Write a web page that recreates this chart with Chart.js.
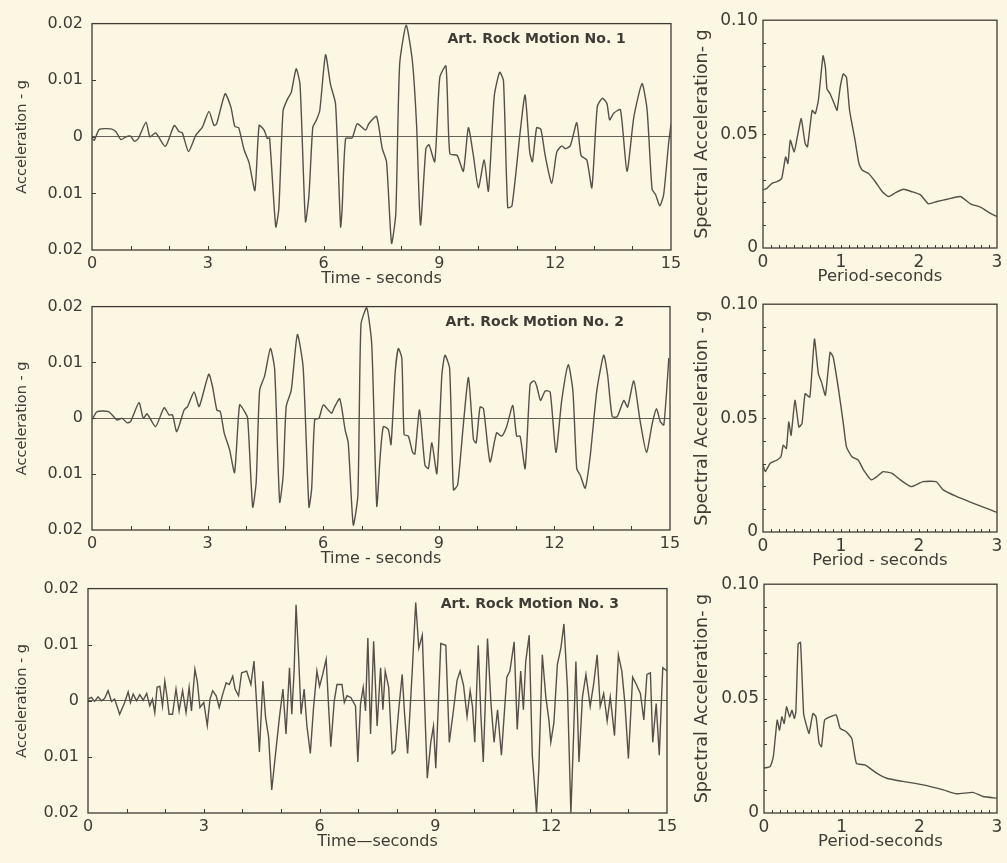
<!DOCTYPE html>
<html>
<head>
<meta charset="utf-8">
<title>Artificial rock motions</title>
<script src="https://cdn.jsdelivr.net/npm/chart.js@4.4.1/dist/chart.umd.min.js"></script>
<style>
  html, body { margin: 0; padding: 0; background: #fbf7e2; }
  #sheet { position: relative; width: 1007px; height: 863px; overflow: hidden; background: #fbf7e2; }
  #sheet canvas { position: absolute; }
</style>
</head>
<body>
<div id="sheet"></div>
<script>
// acceleration time histories (s, g)
const motion1Time = [
  0, 0.06, 0.19, 0.49, 0.62, 0.75, 0.88, 1.0, 1.1, 1.2,
  1.4, 1.5, 1.65, 1.9, 2.13, 2.26, 2.34, 2.5, 2.69, 2.86,
  3.03, 3.16, 3.23, 3.45, 3.6, 3.7, 3.8, 3.94, 4.07, 4.22,
  4.33, 4.46, 4.54, 4.6, 4.76, 4.84, 4.95, 5.06, 5.16, 5.29,
  5.39, 5.53, 5.62, 5.72, 5.81, 5.9, 6.05, 6.18, 6.31, 6.44,
  6.48, 6.57, 6.74, 6.87, 7.09, 7.17, 7.37, 7.52, 7.63, 7.76,
  7.87, 7.97, 8.14, 8.3, 8.41, 8.51, 8.65, 8.73, 8.88, 9.01,
  9.17, 9.27, 9.46, 9.62, 9.75, 9.88, 10.01, 10.16, 10.27, 10.42,
  10.56, 10.66, 10.77, 10.88, 11.1, 11.22, 11.34, 11.41, 11.52, 11.63,
  11.74, 11.91, 12.04, 12.17, 12.26, 12.39, 12.56, 12.67, 12.82, 12.95,
  13.09, 13.22, 13.34, 13.41, 13.52, 13.69, 13.86, 14.04, 14.25, 14.38,
  14.51, 14.6, 14.71, 14.81, 14.94, 15.0
];
const motion1Accel = [
  -0.0003, -0.0006, 0.0013, 0.0014, 0.0009, -0.0005, 0, 0.0001, -0.0008, -0.0003,
  0.0026, 0, 0.0007, -0.0017, 0.002, 0.0009, 0.0007, -0.0026, 0.0003, 0.0017,
  0.0045, 0.002, 0.0023, 0.0076, 0.0052, 0.0018, 0.0016, -0.0023, -0.0046, -0.0095,
  0.002, 0.0012, -0.0003, -0.0002, -0.0159, -0.0127, 0.0046, 0.0066, 0.0078, 0.012,
  0.0092, -0.015, -0.0104, 0.0017, 0.0029, 0.0046, 0.0145, 0.0092, 0.0058, -0.0159,
  -0.0127, -0.0003, -0.0002, 0.0023, 0.0012, 0.0023, 0.0036, -0.0021, -0.0044, -0.0188,
  -0.0136, 0.0128, 0.0197, 0.0134, 0.0019, -0.0156, -0.0021, -0.0014, -0.0044, 0.0105,
  0.0125, -0.003, -0.0033, -0.0061, 0.0016, -0.0033, -0.009, -0.0041, -0.0096, 0.0071,
  0.0114, 0.0099, -0.0125, -0.0122, 0.0013, 0.0074, -0.0027, -0.0044, 0.0016, 0.0013,
  -0.0033, -0.0082, -0.0027, -0.0016, -0.0021, -0.0016, 0.0025, -0.0033, -0.0041, -0.009,
  0.0053, 0.0068, 0.0059, 0.003, 0.0042, 0.0048, -0.0061, 0.0036, 0.0094, 0.0048,
  -0.0093, -0.0102, -0.0122, -0.0102, -0.001, 0.0022
];

const motion2Time = [
  0, 0.13, 0.43, 0.65, 0.78, 0.91, 1.0, 1.22, 1.33, 1.43,
  1.65, 1.87, 2.0, 2.09, 2.2, 2.39, 2.48, 2.65, 2.78, 3.03,
  3.13, 3.24, 3.33, 3.43, 3.57, 3.7, 3.83, 3.96, 4.04, 4.17,
  4.26, 4.35, 4.48, 4.63, 4.74, 4.87, 4.96, 5.04, 5.17, 5.33,
  5.48, 5.63, 5.7, 5.78, 5.89, 6.0, 6.13, 6.22, 6.3, 6.43,
  6.57, 6.65, 6.78, 6.9, 6.98, 7.13, 7.26, 7.39, 7.48, 7.56,
  7.69, 7.76, 7.87, 7.95, 8.04, 8.1, 8.21, 8.32, 8.38, 8.5,
  8.64, 8.73, 8.82, 8.95, 9.08, 9.16, 9.28, 9.38, 9.49, 9.64,
  9.77, 9.9, 9.97, 10.07, 10.16, 10.33, 10.5, 10.63, 10.76, 10.92,
  11.02, 11.11, 11.24, 11.37, 11.47, 11.54, 11.64, 11.76, 11.89, 12.04,
  12.19, 12.36, 12.48, 12.58, 12.67, 12.8, 12.93, 13.1, 13.28, 13.38,
  13.5, 13.63, 13.8, 13.9, 14.06, 14.22, 14.39, 14.54, 14.65, 14.75,
  14.84, 14.97
];
const motion2Accel = [
  -0.0003, 0.0012, 0.0012, -0.0003, 0, -0.0008, -0.0006, 0.0028, 0, 0.0008,
  -0.0015, 0.0019, 0.0006, 0.0006, -0.0024, 0.0015, 0.0021, 0.0047, 0.0021, 0.0079,
  0.0056, 0.0015, 0.0012, -0.0026, -0.0056, -0.0097, 0.0024, 0.0012, 0, -0.0159,
  -0.0115, 0.005, 0.0076, 0.0125, 0.0088, -0.015, -0.0103, 0.0021, 0.005, 0.015,
  0.0091, -0.0159, -0.0126, -0.0002, 0, 0.0024, 0.0015, 0.0009, 0.0021, 0.0035,
  -0.0021, -0.0044, -0.0191, -0.0138, 0.0168, 0.0198, 0.0132, -0.0157, -0.0067, -0.0015,
  -0.002, -0.0047, 0.0084, 0.0125, 0.0108, -0.0029, -0.0032, -0.0061, -0.0064, 0.0015,
  -0.0084, -0.009, -0.0044, -0.0099, 0.0078, 0.0113, 0.009, -0.0128, -0.0119, -0.0009,
  0.0073, -0.0038, -0.0044, 0.002, 0.0017, -0.0078, -0.0026, -0.0032, -0.0015, 0.0023,
  -0.0032, -0.0032, -0.009, 0.0061, 0.0067, 0.0058, 0.0032, 0.0049, 0.0047, -0.0061,
  0.0032, 0.0096, 0.0049, -0.009, -0.0102, -0.0125, -0.0067, 0.0049, 0.0113, 0.0078,
  0.0003, 0.0003, 0.0032, 0.002, 0.0067, -0.0003, -0.0061, -0.0009, 0.0017, -0.0006,
  -0.0012, 0.0108
];

const motion3Time = [
  0, 0.09, 0.17, 0.26, 0.35, 0.43, 0.52, 0.61, 0.69, 0.82,
  0.95, 1.04, 1.1, 1.17, 1.26, 1.34, 1.43, 1.52, 1.6, 1.67,
  1.73, 1.79, 1.86, 1.93, 1.99, 2.05, 2.1, 2.19, 2.28, 2.36,
  2.45, 2.54, 2.62, 2.68, 2.77, 2.83, 2.9, 3.0, 3.09, 3.16,
  3.23, 3.32, 3.4, 3.49, 3.58, 3.66, 3.75, 3.81, 3.9, 3.98,
  4.11, 4.22, 4.3, 4.37, 4.44, 4.53, 4.6, 4.68, 4.76, 4.85,
  4.96, 5.05, 5.13, 5.22, 5.28, 5.34, 5.39, 5.45, 5.52, 5.6,
  5.67, 5.76, 5.84, 5.93, 6.0, 6.08, 6.17, 6.23, 6.29, 6.38,
  6.45, 6.58, 6.64, 6.71, 6.81, 6.93, 6.99, 7.06, 7.13, 7.19,
  7.25, 7.32, 7.4, 7.49, 7.58, 7.64, 7.7, 7.79, 7.88, 7.96,
  8.05, 8.14, 8.2, 8.28, 8.4, 8.49, 8.57, 8.66, 8.75, 8.79,
  8.88, 8.95, 9.01, 9.14, 9.27, 9.36, 9.47, 9.56, 9.64, 9.73,
  9.82, 9.9, 9.96, 10.02, 10.11, 10.18, 10.24, 10.35, 10.44, 10.52,
  10.61, 10.71, 10.85, 10.93, 11.04, 11.12, 11.21, 11.28, 11.34, 11.43,
  11.51, 11.62, 11.68, 11.77, 11.86, 11.94, 11.99, 12.07, 12.16, 12.25,
  12.33, 12.42, 12.51, 12.58, 12.64, 12.72, 12.81, 12.9, 13.01, 13.1,
  13.19, 13.27, 13.36, 13.45, 13.53, 13.64, 13.74, 13.83, 13.91, 14.0,
  14.11, 14.2, 14.31, 14.4, 14.48, 14.57, 14.63, 14.72, 14.8, 14.89,
  15.0
];
const motion3Accel = [
  0.0003, 0.0006, -0.0001, 0.0007, 0, 0.0004, 0.0018, -0.0001, 0.0003, -0.0024,
  -0.0003, 0.0016, -0.0003, 0.0012, 0, 0.0011, 0.0001, 0.0013, -0.0009, 0.0003,
  -0.0021, 0.0024, 0.0026, -0.0009, 0.0035, 0.0006, -0.0024, -0.0024, 0.0021, -0.0018,
  0.0018, -0.0021, 0.0024, -0.0018, 0.0056, 0.0035, -0.0012, -0.0003, -0.0044, 0.0003,
  0.0018, 0.0009, -0.0012, 0.0012, 0.0032, 0.0029, 0.0044, 0.0021, 0.0009, 0.005,
  0.0053, 0.0029, 0.0071, -0.0006, -0.0091, 0.0035, -0.0029, -0.0065, -0.0159, -0.01,
  -0.0029, 0.0021, -0.0059, 0.0059, -0.0024, 0.0053, 0.0171, 0.0088, -0.0024, 0.0021,
  -0.0044, -0.0094, -0.0015, 0.0053, 0.0026, 0.0047, 0.0074, -0.0006, -0.0082, 0,
  0.0029, 0.0029, -0.0003, 0.0009, 0.0006, -0.0009, -0.0109, -0.0006, 0.0024, -0.0018,
  0.0112, -0.0059, 0.0106, -0.0045, 0.0059, -0.0016, 0.0053, 0.0024, -0.0094, -0.0088,
  -0.0016, 0.0047, -0.0022, -0.0094, 0.0053, 0.0175, 0.0094, 0.0117, -0.0062, -0.0138,
  -0.0074, -0.0045, -0.012, 0.0102, 0.0099, -0.0074, -0.0016, 0.0036, 0.0053, 0.0027,
  -0.0028, 0.0018, -0.001, -0.0074, 0.0099, -0.0028, -0.0109, 0.0111, -0.0005, -0.0074,
  -0.0016, -0.0097, 0.0042, 0.0053, 0.0105, -0.0051, 0.0053, -0.0016, 0.007, 0.0117,
  -0.0097, -0.02, -0.012, 0.0082, 0.0007, -0.0034, -0.0074, -0.0039, 0.0065, 0.0094,
  0.0137, 0.0024, -0.02, -0.0062, 0.007, -0.0109, 0.0007, 0.0047, -0.001, 0.003,
  0.0082, -0.001, 0.0013, -0.0036, 0.0007, -0.0062, 0.0082, 0.0053, -0.0005, -0.0103,
  0.0042, 0.003, 0.0013, -0.0034, 0.0047, 0.005, -0.0074, -0.0005, -0.0097, 0.0059,
  0.0053
];

// response spectra (period s, spectral acceleration g)
const spectrum1Period = [
  0, 0.05, 0.115, 0.18, 0.24, 0.29, 0.32, 0.35, 0.4, 0.44,
  0.49, 0.54, 0.57, 0.63, 0.67, 0.71, 0.77, 0.8, 0.82, 0.86,
  0.93, 0.95, 0.99, 1.03, 1.07, 1.11, 1.18, 1.23, 1.27, 1.35,
  1.44, 1.53, 1.61, 1.7, 1.8, 1.91, 2.02, 2.12, 2.23, 2.36,
  2.53, 2.66, 2.79, 2.91, 3.0
];
const spectrum1Accel = [
  0.0255, 0.0262, 0.0284, 0.0291, 0.0306, 0.04, 0.0371, 0.0473, 0.0422, 0.0488,
  0.0568, 0.0459, 0.0444, 0.0604, 0.059, 0.0648, 0.0844, 0.0793, 0.0699, 0.0677,
  0.0619, 0.0604, 0.0706, 0.0764, 0.075, 0.0604, 0.0473, 0.0371, 0.0342, 0.0328,
  0.0291, 0.0247, 0.0226, 0.0243, 0.0258, 0.0247, 0.0233, 0.0194, 0.0204, 0.0214,
  0.0226, 0.0194, 0.0179, 0.0153, 0.0138
];

const spectrum2Period = [
  0, 0.03, 0.09, 0.18, 0.23, 0.26, 0.3, 0.33, 0.36, 0.41,
  0.46, 0.5, 0.54, 0.6, 0.66, 0.71, 0.75, 0.8, 0.86, 0.9,
  0.97, 1.03, 1.07, 1.14, 1.22, 1.29, 1.39, 1.46, 1.54, 1.65,
  1.76, 1.9, 2.05, 2.22, 2.31, 2.48, 2.69, 2.91, 3.0
];
const spectrum2Accel = [
  0.0294, 0.0265, 0.0301, 0.0316, 0.033, 0.0381, 0.0367, 0.0483, 0.0425, 0.0578,
  0.0461, 0.0476, 0.0607, 0.0592, 0.0847, 0.0694, 0.0658, 0.06, 0.0789, 0.0767,
  0.0622, 0.0476, 0.0374, 0.033, 0.0316, 0.0272, 0.0229, 0.0243, 0.0265, 0.0258,
  0.0229, 0.0199, 0.0221, 0.0221, 0.0185, 0.0156, 0.0127, 0.0098, 0.0086
];

const spectrum3Period = [
  0, 0.08, 0.12, 0.17, 0.2, 0.23, 0.26, 0.29, 0.33, 0.36,
  0.39, 0.41, 0.44, 0.47, 0.51, 0.54, 0.58, 0.63, 0.67, 0.71,
  0.74, 0.78, 0.85, 0.93, 0.98, 1.06, 1.13, 1.19, 1.3, 1.45,
  1.58, 1.79, 2.05, 2.31, 2.48, 2.69, 2.82, 3.0
];
const spectrum3Accel = [
  0.0196, 0.0203, 0.0246, 0.0406, 0.0362, 0.042, 0.0391, 0.0464, 0.042, 0.0449,
  0.0413, 0.0442, 0.0739, 0.0746, 0.0435, 0.0391, 0.0348, 0.0435, 0.042, 0.0304,
  0.029, 0.0406, 0.042, 0.0428, 0.037, 0.0355, 0.0326, 0.0217, 0.021, 0.0174,
  0.0152, 0.0138, 0.0123, 0.0101, 0.0084, 0.009, 0.0072, 0.0065
];

const captions = ['Art. Rock Motion No. 1', 'Art. Rock Motion No. 2', 'Art. Rock Motion No. 3'];
const timeTitles = ['Time - seconds', 'Time - seconds', 'Time\u2014seconds'];
const periodTitles = ['Period-seconds', 'Period - seconds', 'Period-seconds'];
const spectralTitles = ['Spectral Acceleration- g', 'Spectral Acceleration - g', 'Spectral Acceleration- g'];

const INK = '#403b36';
const TRACE = '#55504a';
const FACE = 'DejaVu Sans';

// box around the plot, short inward ticks, and the caption inside
const framePlugin = {
  id: 'frame',
  beforeDatasetsDraw(chart, args, opts) {
    const { ctx, chartArea: a, scales: { x, y } } = chart;
    ctx.save();
    ctx.strokeStyle = INK;
    ctx.lineWidth = 1.3;
    ctx.strokeRect(a.left, a.top, a.width, a.height);
    ctx.lineWidth = 1;
    ctx.beginPath();
    const nx = Math.round((x.max - x.min) / opts.xMinor);
    for (let i = 1; i < nx; i++) {
      const px = Math.round(x.getPixelForValue(x.min + i * opts.xMinor)) + 0.5;
      ctx.moveTo(px, a.bottom);
      ctx.lineTo(px, a.bottom - opts.tickLen);
    }
    const ny = Math.round((y.max - y.min) / opts.yMinor);
    for (let i = 1; i < ny; i++) {
      const py = Math.round(y.getPixelForValue(y.min + i * opts.yMinor)) + 0.5;
      ctx.moveTo(a.left, py);
      ctx.lineTo(a.left + opts.tickLen, py);
    }
    ctx.stroke();
    if (opts.caption) {
      ctx.fillStyle = INK;
      ctx.font = 'bold 14px "' + FACE + '"';
      ctx.textAlign = 'center';
      ctx.textBaseline = 'middle';
      ctx.fillText(opts.caption, a.left + a.width * opts.captionX, a.top + 16);
    }
    ctx.restore();
  }
};

const PAD_TOP = 14;
const AXIS_H = 50;

function addPanel(box, spec) {
  const width = box.canvasRight - box.canvasLeft;
  const height = box.bottom - box.top + PAD_TOP + AXIS_H;
  const canvas = document.createElement('canvas');
  canvas.width = width;
  canvas.height = height;
  canvas.style.left = box.canvasLeft + 'px';
  canvas.style.top = (box.top - PAD_TOP) + 'px';
  document.getElementById('sheet').appendChild(canvas);

  const points = spec.xs.map((v, i) => ({ x: v, y: spec.ys[i] }));

  return new Chart(canvas, {
    type: 'line',
    data: {
      datasets: [{
        data: points,
        borderColor: TRACE,
        borderWidth: 1.4,
        pointRadius: 0,
        fill: false,
        tension: spec.tension
      }]
    },
    options: {
      responsive: false,
      animation: false,
      devicePixelRatio: 1,
      layout: {
        padding: { top: PAD_TOP, left: 0, bottom: 0, right: box.canvasRight - box.right }
      },
      plugins: {
        legend: { display: false },
        tooltip: { enabled: false },
        frame: spec.frame
      },
      scales: {
        x: {
          type: 'linear',
          min: spec.xMin,
          max: spec.xMax,
          border: { display: false },
          grid: { display: false, drawTicks: false },
          ticks: {
            stepSize: spec.xStep,
            autoSkip: false,
            maxRotation: 0,
            padding: 4,
            color: INK,
            font: { family: FACE, size: spec.xTickSize }
          },
          title: {
            display: true,
            text: spec.xTitle,
            color: INK,
            font: { family: FACE, size: spec.xTitleSize },
            padding: { top: 0, bottom: spec.xTitlePad }
          },
          afterFit: s => { s.height = AXIS_H; }
        },
        y: {
          type: 'linear',
          min: spec.yMin,
          max: spec.yMax,
          border: { display: false },
          grid: {
            display: spec.zeroLine,
            drawTicks: false,
            lineWidth: 1,
            color: c => (Math.abs(c.tick.value) < 1e-9 ? '#6b6058' : 'rgba(0,0,0,0)')
          },
          ticks: {
            stepSize: spec.yStep,
            autoSkip: false,
            padding: spec.yTickPad,
            color: INK,
            font: { family: FACE, size: spec.yTickSize },
            callback: spec.yLabel
          },
          title: {
            display: true,
            text: spec.yTitle,
            color: INK,
            font: { family: FACE, size: spec.yTitleSize },
            padding: { top: spec.yTitlePad, bottom: 0 }
          },
          afterFit: s => { s.width = box.left - box.canvasLeft; }
        }
      }
    },
    plugins: [framePlugin]
  });
}

const accelLabel = v => (Math.abs(v) < 1e-9 ? '0' : Math.abs(v).toFixed(2));
const spectralLabel = v => (Math.abs(v) < 1e-9 ? '0' : v.toFixed(2));

const timeBoxes = [
  { canvasLeft: 0, canvasRight: 700, left: 92, right: 671, top: 19, bottom: 250 },
  { canvasLeft: 0, canvasRight: 700, left: 92, right: 670, top: 302, bottom: 530 },
  { canvasLeft: 0, canvasRight: 700, left: 88, right: 667, top: 584, bottom: 813 }
];
const spectrumBoxes = [
  { canvasLeft: 690, canvasRight: 1007, left: 763, right: 997, top: 19, bottom: 248 },
  { canvasLeft: 690, canvasRight: 1007, left: 763, right: 997, top: 303, bottom: 532 },
  { canvasLeft: 690, canvasRight: 1007, left: 764, right: 997, top: 583, bottom: 813 }
];

const histories = [
  [motion1Time, motion1Accel],
  [motion2Time, motion2Accel],
  [motion3Time, motion3Accel]
];
const spectra = [
  [spectrum1Period, spectrum1Accel],
  [spectrum2Period, spectrum2Accel],
  [spectrum3Period, spectrum3Accel]
];
const captionX = [0.768, 0.766, 0.763];

histories.forEach(([xs, ys], i) => {
  addPanel(timeBoxes[i], {
    xs, ys,
    tension: i < 2 ? 0.2 : 0,
    xMin: 0, xMax: 15, xStep: 3,
    yMin: -0.02, yMax: 0.02, yStep: 0.01,
    yLabel: accelLabel,
    zeroLine: true,
    xTitle: timeTitles[i],
    yTitle: 'Acceleration - g',
    xTickSize: 16, yTickSize: 16, xTitleSize: 16, yTitleSize: 14.5,
    xTitlePad: 12, yTitlePad: 14, yTickPad: 9,
    frame: { xMinor: 1, yMinor: 0.01, tickLen: 4, caption: captions[i], captionX: captionX[i] }
  });
});

spectra.forEach(([xs, ys], i) => {
  addPanel(spectrumBoxes[i], {
    xs, ys,
    tension: 0.15,
    xMin: 0, xMax: 3, xStep: 1,
    yMin: 0, yMax: 0.1, yStep: 0.05,
    yLabel: spectralLabel,
    zeroLine: false,
    xTitle: periodTitles[i],
    yTitle: spectralTitles[i],
    xTickSize: 17, yTickSize: 17, xTitleSize: 16.5, yTitleSize: 17.5,
    xTitlePad: 11, yTitlePad: 2, yTickPad: 5,
    frame: { xMinor: 0.1, yMinor: 0.01, tickLen: 3, caption: null, captionX: 0 }
  });
});
</script>
</body>
</html>
